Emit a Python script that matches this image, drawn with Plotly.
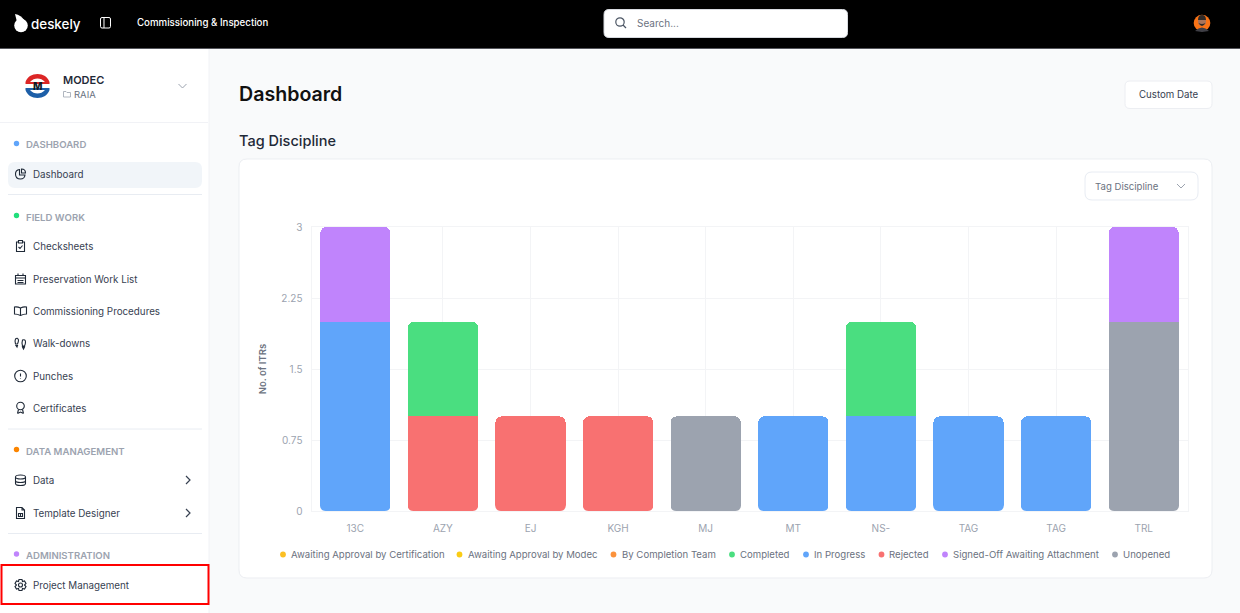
import re
import plotly.graph_objects as go

W, H = 1240, 613

categories = ['13C', 'AZY', 'EJ', 'KGH', 'MJ', 'MT', 'NS-', 'TAG', 'TAG', 'TRL']
unopened = [None, None, None, None, 1, None, None, None, None, 2]
rejected = [None, 1, 1, 1, None, None, None, None, None, None]
in_progress = [2, None, None, None, None, 1, 1, 1, 1, None]
completed = [None, 1, None, None, None, None, 1, None, None, None]
signed_off = [1, None, None, None, None, None, None, None, None, 1]
empty = [None] * 10

y_ticks = [0, 0.75, 1.5, 2.25, 3]
y_labels = ['0', '0.75', '1.5', '2.25', '3']

legend_names = ['Awaiting Approval by Certification', 'Awaiting Approval by Modec', 'By Completion Team',
                'Completed', 'In Progress', 'Rejected', 'Signed-Off Awaiting Attachment', 'Unopened']
legend_colors = ['#fbbf24', '#facc15', '#fb923c', '#4ade80', '#60a5fa', '#f87171', '#c084fc', '#9ca3af']
legend_dot_x = [283, 459.5, 613.5, 732, 806, 881.5, 945, 1115]

menu_items = ['Dashboard', 'Checksheets', 'Preservation Work List', 'Commissioning Procedures', 'Walk-downs',
              'Punches', 'Certificates', 'Data', 'Template Designer', 'Project Management']
menu_y = [174, 246, 279, 311, 343, 376, 408, 480, 513, 585]
section_names = ['DASHBOARD', 'FIELD WORK', 'DATA MANAGEMENT', 'ADMINISTRATION']
section_y = [145, 217, 451, 555.5]
section_colors = ['#60a5fa', '#22de7c', '#fb8500', '#c084fc']

# icon outlines, drawn around (0,0) in pixels
icons = [
    'M 4.5 1 Q 4 5 0 5 Q -5 5 -5 0 Q -5 -4 -1 -4.5 L -1 1 Z M 1 -5 Q 5 -5 5 -1 L 1 -1 Z',
    'M -2 -4 L -4 -4 L -4 5.5 L 4 5.5 L 4 -4 L 2 -4 M -2 -5.5 L 2 -5.5 L 2 -3 L -2 -3 Z M -2 1 L -0.5 2.5 L 2 -0.5',
    'M -5 -3.5 L 5 -3.5 L 5 5 L -5 5 Z M -5 -1 L 5 -1 M -2.5 -5.5 L -2.5 -3 M 2.5 -5.5 L 2.5 -3 M -3 1.5 L 3 1.5 M -3 3.5 L 3 3.5',
    'M 0 -3 Q -3 -4.5 -6 -4 L -6 3 Q -3 3 0 4.5 Q 3 3 6 3 L 6 -4 Q 3 -4.5 0 -3 Z M 0 -3 L 0 4.5',
    'M -5 -4 Q -3 -6 -2 -3 Q -2 -1 -3 1 L -5 1 Q -6 -2 -5 -4 Z M -4.5 2.5 L -3 2.5 L -3.5 4 Z M 2 -3 Q 5 -4 5 -1 Q 5 1 4 3 L 2 3 Q 1 0 2 -3 Z M 2 4 L 4 4 L 3 6 Z',
    'M 0 -2.5 L 0 0.5 M 0 2.2 L 0 2.8',
    'M -3 5.5 L -2 1.5 M 3 5.5 L 2 1.5 M -3 5.5 L 0 4 L 3 5.5',
    'M -5 -3 L -5 3.5 Q -5 5.5 0 5.5 Q 5 5.5 5 3.5 L 5 -3 M -5 0.5 Q -5 2.5 0 2.5 Q 5 2.5 5 0.5',
    'M -4 -5.5 L 1.5 -5.5 L 4 -3 L 4 5.5 L -4 5.5 Z M 1.5 -5.5 L 1.5 -3 L 4 -3 M -2 0.5 L 2 0.5 L 2 3.5 L -2 3.5 Z M 0 0.5 L 0 3.5',
    'M -1.5 -5.5 L 1.5 -5.5 L 2 -3.5 L 4 -4 L 5.5 -1.5 L 4 0 L 5.5 1.5 L 4 4 L 2 3.5 L 1.5 5.5 L -1.5 5.5 L -2 3.5 L -4 4 L -5.5 1.5 L -4 0 L -5.5 -1.5 L -4 -4 L -2 -3.5 Z',
]

shapes = []
notes = []


def px(x):
    return x / W


def py(y):
    return 1 - y / H


def to_paper(d, dx=0, dy=0):
    # every number pair in an M/L/Q/C path is a pixel point
    parts = re.findall(r'[A-Za-z]|-?[\d.]+', d)
    out, is_x = [], True
    for p in parts:
        if p.isalpha():
            out.append(p)
        elif is_x:
            out.append(f'{px(float(p) + dx):.5f}')
            is_x = False
        else:
            out.append(f'{py(float(p) + dy):.5f}')
            is_x = True
    return ' '.join(out)


def path(d, fill=None, color=None, width=1.2, dx=0, dy=0):
    shapes.append(dict(type='path', xref='paper', yref='paper', path=to_paper(d, dx, dy), layer='below',
                       fillcolor=fill or 'rgba(0,0,0,0)',
                       line=dict(color=color or 'rgba(0,0,0,0)', width=width if color else 0)))


def box(x0, y0, x1, y1, r=0, fill=None, color=None, width=1):
    path(f'M {x0 + r} {y0} L {x1 - r} {y0} Q {x1} {y0} {x1} {y0 + r} L {x1} {y1 - r} Q {x1} {y1} {x1 - r} {y1} '
         f'L {x0 + r} {y1} Q {x0} {y1} {x0} {y1 - r} L {x0} {y0 + r} Q {x0} {y0} {x0 + r} {y0} Z', fill, color, width)


def dot(cx, cy, r, fill=None, color=None, width=1.2):
    shapes.append(dict(type='circle', xref='paper', yref='paper', layer='below',
                       x0=px(cx - r), x1=px(cx + r), y0=py(cy + r), y1=py(cy - r),
                       fillcolor=fill or 'rgba(0,0,0,0)',
                       line=dict(color=color or 'rgba(0,0,0,0)', width=width if color else 0)))


def text(x, y, s, size=10.5, color='#374151', weight=400, anchor='left', angle=0):
    notes.append(dict(xref='paper', yref='paper', x=px(x), y=py(y), text=s, showarrow=False, xanchor=anchor,
                      yanchor='middle', textangle=angle, borderpad=0, borderwidth=0,
                      font=dict(family='Inter', size=size, color=color, weight=weight)))


def chevron(cx, cy, color, vertical=True):
    if vertical:
        path(f'M {cx - 4} {cy - 2} L {cx} {cy + 2} L {cx + 4} {cy - 2}', color=color, width=1)
    else:
        path(f'M {cx - 2} {cy - 4} L {cx + 2} {cy} L {cx - 2} {cy + 4}', color=color, width=1.2)


# page frame
box(0, 49, 209, 613, fill='#ffffff')
path('M 209 49 L 209 613', color='#f1f2f6', width=1)
box(0, 0, 1240, 48, fill='#000000')
path('M 0 48.5 L 1240 48.5', color='#55565c', width=1)

# top bar
dot(21, 25.5, 6.8, fill='#ffffff')
path('M 15 14 Q 21 15 25 21 L 17 22 Z', fill='#ffffff')
text(31, 23.5, 'deskely', 13.4, '#ffffff', 500)
box(100.5, 17.5, 110.5, 28, 1.5, color='#ffffff')
path('M 104 17.5 L 104 28', color='#ffffff', width=1)
text(137, 23, 'Commissioning &amp; Inspection', 9.7, '#ffffff', 500)
box(604, 9.5, 847.5, 37.5, 5, fill='#ffffff', color='#d8dbe0')
dot(620, 22, 4.2, color='#4b5563')
path('M 623 25 L 626 28', color='#4b5563')
text(637, 23, 'Search...', 10, '#6b7280')
dot(1202, 23, 8.3, fill='#f97316')
path('M 1195 31 Q 1202 24 1209 31 L 1202 32 Z', fill='#3f3f46')
dot(1202, 21.5, 4, fill='#a9745a')
path('M 1198 20 Q 1198 15 1202 15 Q 1206 15 1206 20 Z', fill='#2f2a28')
path('M 1198.5 23 Q 1202 29 1205.5 23 Q 1202 25 1198.5 23 Z', fill='#2f2a28')

# project picker
path('M 25.5 82 C 27 77 32 74 37.5 74 C 43 74 48 77 49.5 82 L 45 82 C 43 79.5 40 78.5 37.5 78.5 C 35 78.5 32 79.5 30 82 Z', fill='#dc2626')
path('M 25.5 90 C 27 95 32 98 37.5 98 C 43 98 48 95 49.5 90 L 45 90 C 43 92.5 40 93.5 37.5 93.5 C 35 93.5 32 92.5 30 90 Z', fill='#1d5fa8')
path('M 25.5 82 L 49.5 82 L 49.5 84 L 25.5 84 Z', fill='#dc2626')
path('M 25.5 88 L 49.5 88 L 49.5 90 L 25.5 90 Z', fill='#1d5fa8')
text(37.5, 86, 'M', 10, '#111827', 800, 'center')
text(63, 80, 'MODEC', 11, '#1f2937', 600)
path('M 63.5 91.5 L 66 91.5 L 67 92.5 L 70.5 92.5 L 70.5 97 L 63.5 97 Z', color='#9ca3af', width=0.8)
text(74, 94.5, 'RAIA', 9.5, '#6b7280')
chevron(182.5, 86, '#9ca3af')
path('M 0 122.5 L 208 122.5', color='#f1f2f6', width=1)

# sidebar menu
box(8, 162, 202, 188, 7, fill='#f1f5f9')
for yy in [194.5, 429, 533.5]:
    path(f'M 8 {yy} L 202 {yy}', color='#e8ecf2', width=1)
for name, yy, c in zip(section_names, section_y, section_colors):
    dot(16.5, yy - 1.5, 2.7, fill=c)
    text(26, yy, name, 9.6, '#9ca3af', 600)
for i, (name, yy) in enumerate(zip(menu_items, menu_y)):
    path(icons[i], color='#1f2937', width=1.1, dx=20.5, dy=yy)
    text(33, yy, name, 9.8, '#374151')
dot(20.5, 376, 5.8, color='#1f2937', width=1.1)
dot(20.5, 406, 3.8, color='#1f2937', width=1.1)
shapes.append(dict(type='circle', xref='paper', yref='paper', layer='below', x0=px(15.5), x1=px(25.5),
                   y0=py(479), y1=py(475), line=dict(color='#1f2937', width=1.1)))
dot(20.5, 585, 2, color='#1f2937', width=1.1)
chevron(188, 480, '#374151', False)
chevron(188, 513, '#374151', False)
box(1.5, 565, 208.5, 604, color='#ff0000', width=2)

# main header and card
text(239, 94, 'Dashboard', 19.6, '#111111', 600)
text(239, 141, 'Tag Discipline', 14.5, '#1f2937', 500)
box(1125, 81, 1212, 108.5, 5, fill='#ffffff', color='#eceef2')
text(1168.5, 94.5, 'Custom Date', 9.7, '#374151', 400, 'center')
box(239, 159, 1212, 578, 8, fill='#ffffff', color='#eceef2')
box(1085, 172, 1198, 200, 7, fill='#ffffff', color='#e8ecf3')
text(1095, 186, 'Tag Discipline', 9.6, '#6b7280')
chevron(1181, 186, '#9ca3af')

# legend
for name, c, xx in zip(legend_names, legend_colors, legend_dot_x):
    dot(xx, 554.5, 2.9, fill=c)
    text(xx + 8, 554.5, name, 9.6, '#6b7280')

fig = go.Figure()
for name, vals, c in [('Unopened', unopened, '#9ca3af'), ('Rejected', rejected, '#f87171'),
                      ('In Progress', in_progress, '#60a5fa'), ('Completed', completed, '#4ade80'),
                      ('Signed-Off Awaiting Attachment', signed_off, '#c084fc'),
                      ('Awaiting Approval by Certification', empty, '#fbbf24'),
                      ('Awaiting Approval by Modec', empty, '#facc15'),
                      ('By Completion Team', empty, '#fb923c')]:
    fig.add_trace(go.Bar(x=list(range(len(categories))), y=vals, name=name, marker_color=c, marker_line_width=0,
                         showlegend=False))

# stacks round only their top end, so the two lower corners get white notches
for i in range(len(categories)):
    for s in (-1, 1):
        shapes.append(dict(type='path', xref='x', yref='y', xsizemode='pixel', ysizemode='pixel',
                           xanchor=i, yanchor=0, layer='above', fillcolor='#ffffff', line_width=0,
                           path=f'M {s * 35.5} 0 L {s * 29.5} 0 Q {s * 35} 0 {s * 35.5} 6 Z'))

fig.update_layout(
    width=W, height=H, margin=dict(l=0, r=0, t=0, b=0, pad=0), autosize=False,
    paper_bgcolor='#f9fafb', plot_bgcolor='rgba(0,0,0,0)',
    barmode='stack', bargap=0.2, barcornerradius=6,
    font=dict(family='Inter'), shapes=shapes, annotations=notes, showlegend=False,
    xaxis=dict(domain=[px(311.5), px(1187.5)], range=[-0.5, 9.5], tickmode='array', automargin=False,
               tickvals=list(range(len(categories))), ticktext=categories, showgrid=True, gridcolor='#f3f4f6',
               showline=True, mirror=True, linecolor='#f3f4f6', ticks='outside', ticklen=8,
               tickcolor='rgba(0,0,0,0)', tickfont=dict(size=10, color='#9ca3af'), zeroline=False),
    yaxis=dict(domain=[py(511), py(227)], range=[0, 3], tickmode='array', tickvals=y_ticks, ticktext=y_labels,
               automargin=False, showgrid=True, gridcolor='#f3f4f6', showline=True, mirror=True,
               linecolor='#f3f4f6', ticks='outside', ticklen=6, tickcolor='rgba(0,0,0,0)',
               tickfont=dict(size=10, color='#9ca3af'), zeroline=False,
               title=dict(text='No. of ITRs', standoff=13, font=dict(size=9.5, color='#6b7280', weight=600))),
)

fig.write_html('out.html', config=dict(displayModeBar=False),
               post_script="document.body.style.margin='0';document.body.style.overflow='hidden';")
